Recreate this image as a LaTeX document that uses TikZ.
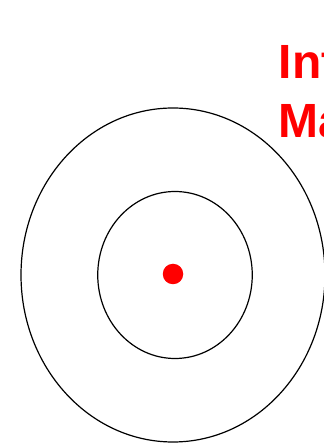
\documentclass[tikz,border=0pt]{standalone}
\usepackage{fontspec}
\setmainfont{Liberation Sans}
\usetikzlibrary{shapes.geometric}
\definecolor{hotred}{RGB}{255,0,0}
\tikzset{
  ring/.style  = {draw, ellipse, line width=1.2pt, inner sep=0pt},
  spot/.style  = {fill=hotred, circle, inner sep=0pt, minimum size=20.5pt},
  title/.style = {anchor=base west, inner sep=0pt, text=hotred,
                  font=\fontsize{48}{58}\selectfont\bfseries},
}
\begin{document}
\begin{tikzpicture}[x=1pt, y=1pt]
\useasboundingbox (0,0) rectangle (324,445);
\clip (0,0) rectangle (324,445);
% rings and centre
\node[ring, minimum width=304pt, minimum height=334pt] (outer) at (173,170) {};
\node[ring, minimum width=154.5pt, minimum height=167pt] (inner) at (175,170) {};
\node[spot] (centre) at (173,171) {};
% heading, cut by the frame
\node[title] (line1) at (278.5,366) {Int};
\node[title] (line2) at (278.5,307.3) {Ma};
\end{tikzpicture}
\end{document}
